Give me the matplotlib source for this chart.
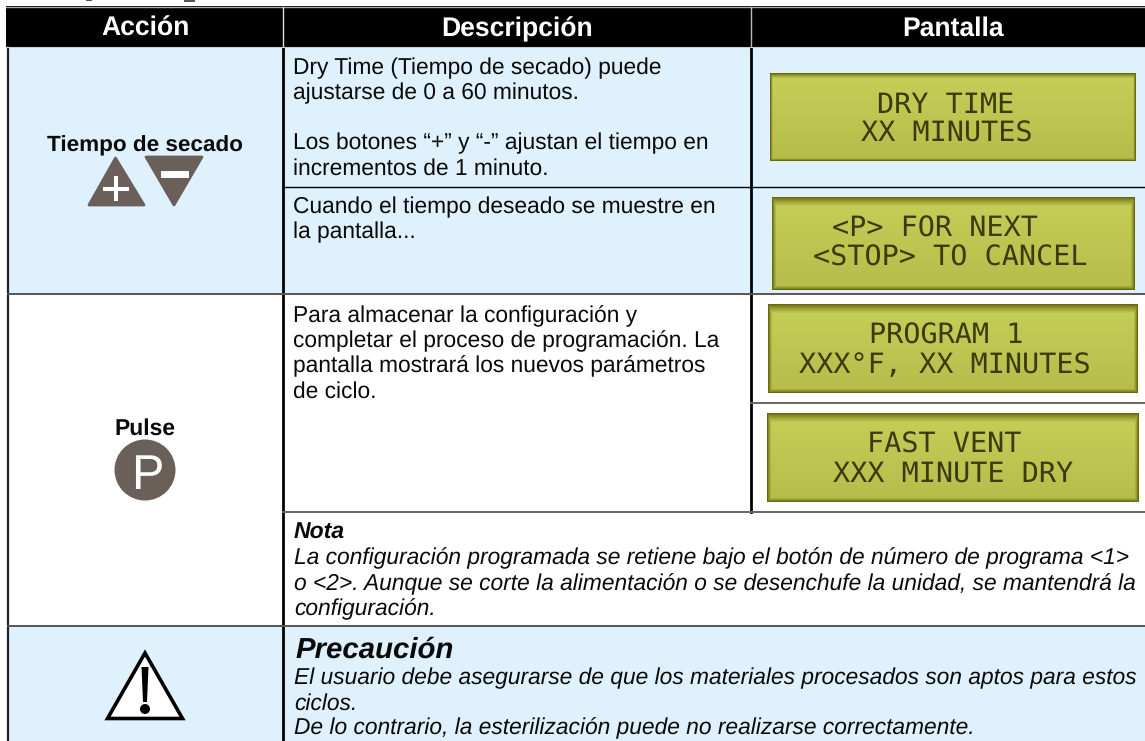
import numpy as np
import matplotlib
matplotlib.use('Agg')
import matplotlib.pyplot as plt
from matplotlib.patches import Rectangle, Polygon, Circle

W, H = 1145, 741
BLUE = '#dff1fc'
BROWN = '#6b5f5a'
INK = '#0a0a0a'
plt.rcParams['font.family'] = ['Liberation Sans', 'DejaVu Sans']
plt.rcParams['text.hinting'] = 'none'

headers = ['Acción', 'Descripción', 'Pantalla']
dry_label = 'Tiempo de secado'
pulse_label = 'Pulse'
dry_text = ['Dry Time (Tiempo de secado) puede', 'ajustarse de 0 a 60 minutos.', '',
            'Los botones “+” y “-” ajustan el tiempo en', 'incrementos de 1 minuto.']
wait_text = ['Cuando el tiempo deseado se muestre en', 'la pantalla...']
store_text = ['Para almacenar la configuración y', 'completar el proceso de programación. La',
              'pantalla mostrará los nuevos parámetros', 'de ciclo.']
note_title = 'Nota'
note_text = ['La configuración programada se retiene bajo el botón de número de programa <1>',
             'o <2>. Aunque se corte la alimentación o se desenchufe la unidad, se mantendrá la',
             'configuración.']
caution_title = 'Precaución'
caution_text = ['El usuario debe asegurarse de que los materiales procesados son aptos para estos',
                'ciclos.', 'De lo contrario, la esterilización puede no realizarse correctamente.']
lcd_text = [('DRY TIME', 'XX MINUTES'), ('<P> FOR NEXT', '<STOP> TO CANCEL'),
            ('PROGRAM 1', 'XXX°F, XX MINUTES'), ('FAST VENT', 'XXX MINUTE DRY')]
lcd_boxes = [(770, 73, 1136, 161), (772, 197, 1135, 290), (768, 304, 1138, 393), (767, 413, 1139, 502)]
lcd_centers = [(946, 947), (935, 950), (946, 945), (944, 953)]

fig = plt.figure(figsize=(W / 100, H / 100), dpi=100)
ax = fig.add_axes([0, 0, 1, 1])
ax.set_xlim(0, W)
ax.set_ylim(H, 0)
ax.axis('off')


def rect(x0, y0, x1, y1, color, z=1):
    ax.add_patch(Rectangle((x0, y0), x1 - x0, y1 - y0, facecolor=color, edgecolor='none', zorder=z))


def lcd(box, lines, centers, soft):
    x0, y0, x1, y1 = box
    h, w = y1 - y0, x1 - x0
    yy, xx = np.mgrid[0:h, 0:w]
    top = 9.0 if soft else 5.0
    side = 4.0 if soft else 2.5
    edge = np.minimum.reduce([yy / top, (h - 1 - yy) / side, xx / side, (w - 1 - xx) / side])
    edge = np.clip(edge, 0, 1) ** 0.8
    mid = np.array([198, 207, 88]) / 255
    dark = np.array([105, 104, 12]) / 255
    low = np.array([182, 188, 74]) / 255
    base = mid + (low - mid) * (yy / h)[..., None]
    img = dark + (base - dark) * edge[..., None]
    ax.imshow(img, extent=(x0, x1, y1, y0), aspect='auto', zorder=2, interpolation='bilinear')
    for dy, s, cx in zip((40, 69), lines, centers):
        ax.text(cx, y0 + dy, s, family='DejaVu Sans Mono', fontsize=20.5, color='#3a3c0e',
                ha='center', va='baseline', zorder=3)


def body(x, y, lines, step=25, **kw):
    for i, s in enumerate(lines):
        ax.text(x, y + i * step, s, fontsize=16.35, color=INK, va='baseline', ha='left', zorder=5, **kw)


# fills
rect(8, 46, W, 293, BLUE)
rect(8, 626, W, H, BLUE)

# cut off line of text above the table
rect(86, 0, 92, 1.2, '#555555')
rect(184, 0, 195, 1.5, '#555555')

# header
rect(6, 6, W, 47, 'black', 4)
ax.plot([6, W], [6.5, 6.5], color='#aaaaaa', lw=1, zorder=5)
ax.plot([282.5, 282.5], [7, 46], color='#dddddd', lw=1, zorder=5)
ax.plot([751, 751], [7, 46], color='#bbbbbb', lw=1, zorder=5)
ax.plot([6, W], [46.8, 46.8], color='#cccccc', lw=0.8, zorder=5)
for x, s in zip([146, 517, 953], headers):
    ax.text(x, 36, s, color='white', fontsize=19.1, fontweight='bold', ha='center', va='baseline', zorder=6)

# table rules
ax.plot([7.5, 7.5], [47, H], color='#222222', lw=1.6, zorder=4)
ax.plot([283, 283], [48, H], color='black', lw=2.0, zorder=4)
ax.plot([751, 751], [48, 512], color='black', lw=2.0, zorder=4)
ax.plot([283, W], [186.8, 186.8], color='black', lw=1.0, zorder=4)
ax.plot([8, W], [293.5, 293.5], color='#555555', lw=1.4, zorder=4)
ax.plot([751, W], [402.8, 402.8], color='#666666', lw=1.4, zorder=4)
ax.plot([283, W], [512, 512], color='#666666', lw=1.4, zorder=4)
ax.plot([8, W], [625.5, 625.5], color='#555555', lw=1.4, zorder=4)

# action column
ax.text(145, 151, dry_label, fontsize=16.2, fontweight='bold', color=INK, ha='center', va='baseline', zorder=5)
ax.add_patch(Polygon([(89, 205), (144, 205), (115.5, 158)], closed=True, facecolor=BROWN, edgecolor=BROWN,
                     lw=2, joinstyle='round', zorder=5))
ax.add_patch(Polygon([(146, 157), (202, 157), (174, 205)], closed=True, facecolor=BROWN, edgecolor=BROWN,
                     lw=2, joinstyle='round', zorder=5))
ax.plot([105, 127], [188.5, 188.5], color='white', lw=2.9, zorder=6)
ax.plot([116, 116], [178, 199], color='white', lw=2.9, zorder=6)
ax.plot([164, 185], [173.5, 173.5], color='white', lw=5, zorder=6)

ax.text(145, 435, pulse_label, fontsize=16.5, fontweight='bold', color=INK, ha='center', va='baseline', zorder=5)
ax.add_patch(Circle((145, 470), 30.5, facecolor=BROWN, edgecolor='none', zorder=5))
ax.text(147, 489, 'P', color='white', fontsize=35, ha='center', va='baseline', zorder=6)

# warning sign
ax.add_patch(Polygon([(145, 653), (107.5, 718.5), (182.5, 718.5)], closed=True, facecolor='white', edgecolor='black',
                     lw=2.6, joinstyle='miter', zorder=5))
ax.add_patch(Polygon([(141.5, 667), (148.5, 667), (147, 702), (143, 702)], closed=True, facecolor='black',
                     edgecolor='none', zorder=6))
ax.add_patch(Circle((145, 709), 5, facecolor='black', edgecolor='none', zorder=6))

# description column
body(293, 74.5, dry_text)
body(293, 213.5, wait_text)
body(293, 322.5, store_text)
ax.text(294, 539, note_title, fontsize=16.6, fontweight='bold', style='italic', color=INK, va='baseline', zorder=5)
body(294, 564.5, note_text, step=25.5, style='italic')
ax.text(295, 658, caution_title, fontsize=21.2, fontweight='bold', style='italic', color=INK, va='baseline', zorder=5)
body(294, 684, caution_text, step=25.3, style='italic')

# lcd panels
for i, (box, lines) in enumerate(zip(lcd_boxes, lcd_text)):
    lcd(box, lines, lcd_centers[i], i > 0)

ax.set_xlim(0, W)
ax.set_ylim(H, 0)
fig.savefig('out.png', dpi=100)
